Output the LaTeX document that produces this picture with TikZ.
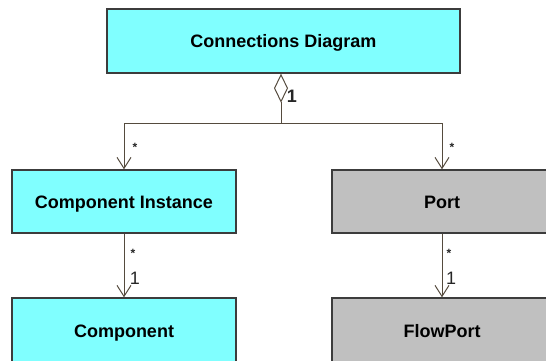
\documentclass[tikz,border=0pt]{standalone}
\usepackage{fontspec}
\setmainfont{Liberation Sans}
\usetikzlibrary{arrows.meta,positioning}
\definecolor{boxcyan}{RGB}{128,255,255}
\definecolor{boxgray}{RGB}{192,192,192}
\definecolor{boxline}{RGB}{60,60,60}
\definecolor{linkline}{RGB}{85,75,62}
\begin{document}
\begin{tikzpicture}
[x=1pt, y=-1pt, node distance=128pt, font=\fontsize{18}{20}\selectfont]
\tikzstyle{class}=[rectangle, draw=boxline, line width=1.4pt, inner sep=0pt, text height=13pt, text depth=0pt, font=\fontsize{18}{20}\selectfont\bfseries]
\tikzstyle{mult}=[inner sep=0pt, text=black!85]
\tikzstyle{link}=[draw=linkline, line width=1pt]
\path[use as bounding box, clip] (0,0) rectangle (546,360);

\node[class, fill=boxcyan, minimum width=353pt, minimum height=64pt] (Diagram) at (283.5,41) {Connections Diagram};
\node[class, fill=boxcyan, minimum width=224pt, minimum height=63pt] (Instance) at (124,201.5) {Component Instance};
\node[class, fill=boxgray, minimum width=220pt, minimum height=63pt] (Port) [right of=Instance, node distance=318pt] {Port};
\node[class, fill=boxcyan, minimum width=224pt, minimum height=66pt] (Component) [below of=Instance, yshift=-1.5pt] {Component};
\node[class, fill=boxgray, minimum width=220pt, minimum height=66pt] (FlowPort) [below of=Port, yshift=-1.5pt] {FlowPort};

\coordinate (split) at (281,123);

\node[mult, font=\fontsize{18}{20}\selectfont\bfseries] (one0) at (292,96) {1};
\node[mult, font=\fontsize{12}{12}\selectfont\bfseries] (many1) at (135,147) {*};
\node[mult, font=\fontsize{12}{12}\selectfont\bfseries] (many2) at (452,147) {*};
\node[mult, font=\fontsize{12}{12}\selectfont\bfseries] (many3) at (133,253) {*};
\node[mult] (one1) at (135,278) {1};
\node[mult, font=\fontsize{12}{12}\selectfont\bfseries] (many4) at (449,253) {*};
\node[mult] (one2) at (451,278) {1};

\draw[link, {Diamond[open, length=29pt, width=14pt, line width=1pt]}-] (split |- Diagram.south) -- (split);
\draw[link, -{Straight Barb[length=11pt, width=14pt, line width=1pt]}] (split) -| (Instance.north);
\draw[link, -{Straight Barb[length=11pt, width=14pt, line width=1pt]}] (split) -| (Port.north);
\draw[link, -{Straight Barb[length=11pt, width=14pt, line width=1pt]}] (Instance) -- (Component);
\draw[link, -{Straight Barb[length=11pt, width=14pt, line width=1pt]}] (Port) -- (FlowPort);

\end{tikzpicture}
\end{document}
